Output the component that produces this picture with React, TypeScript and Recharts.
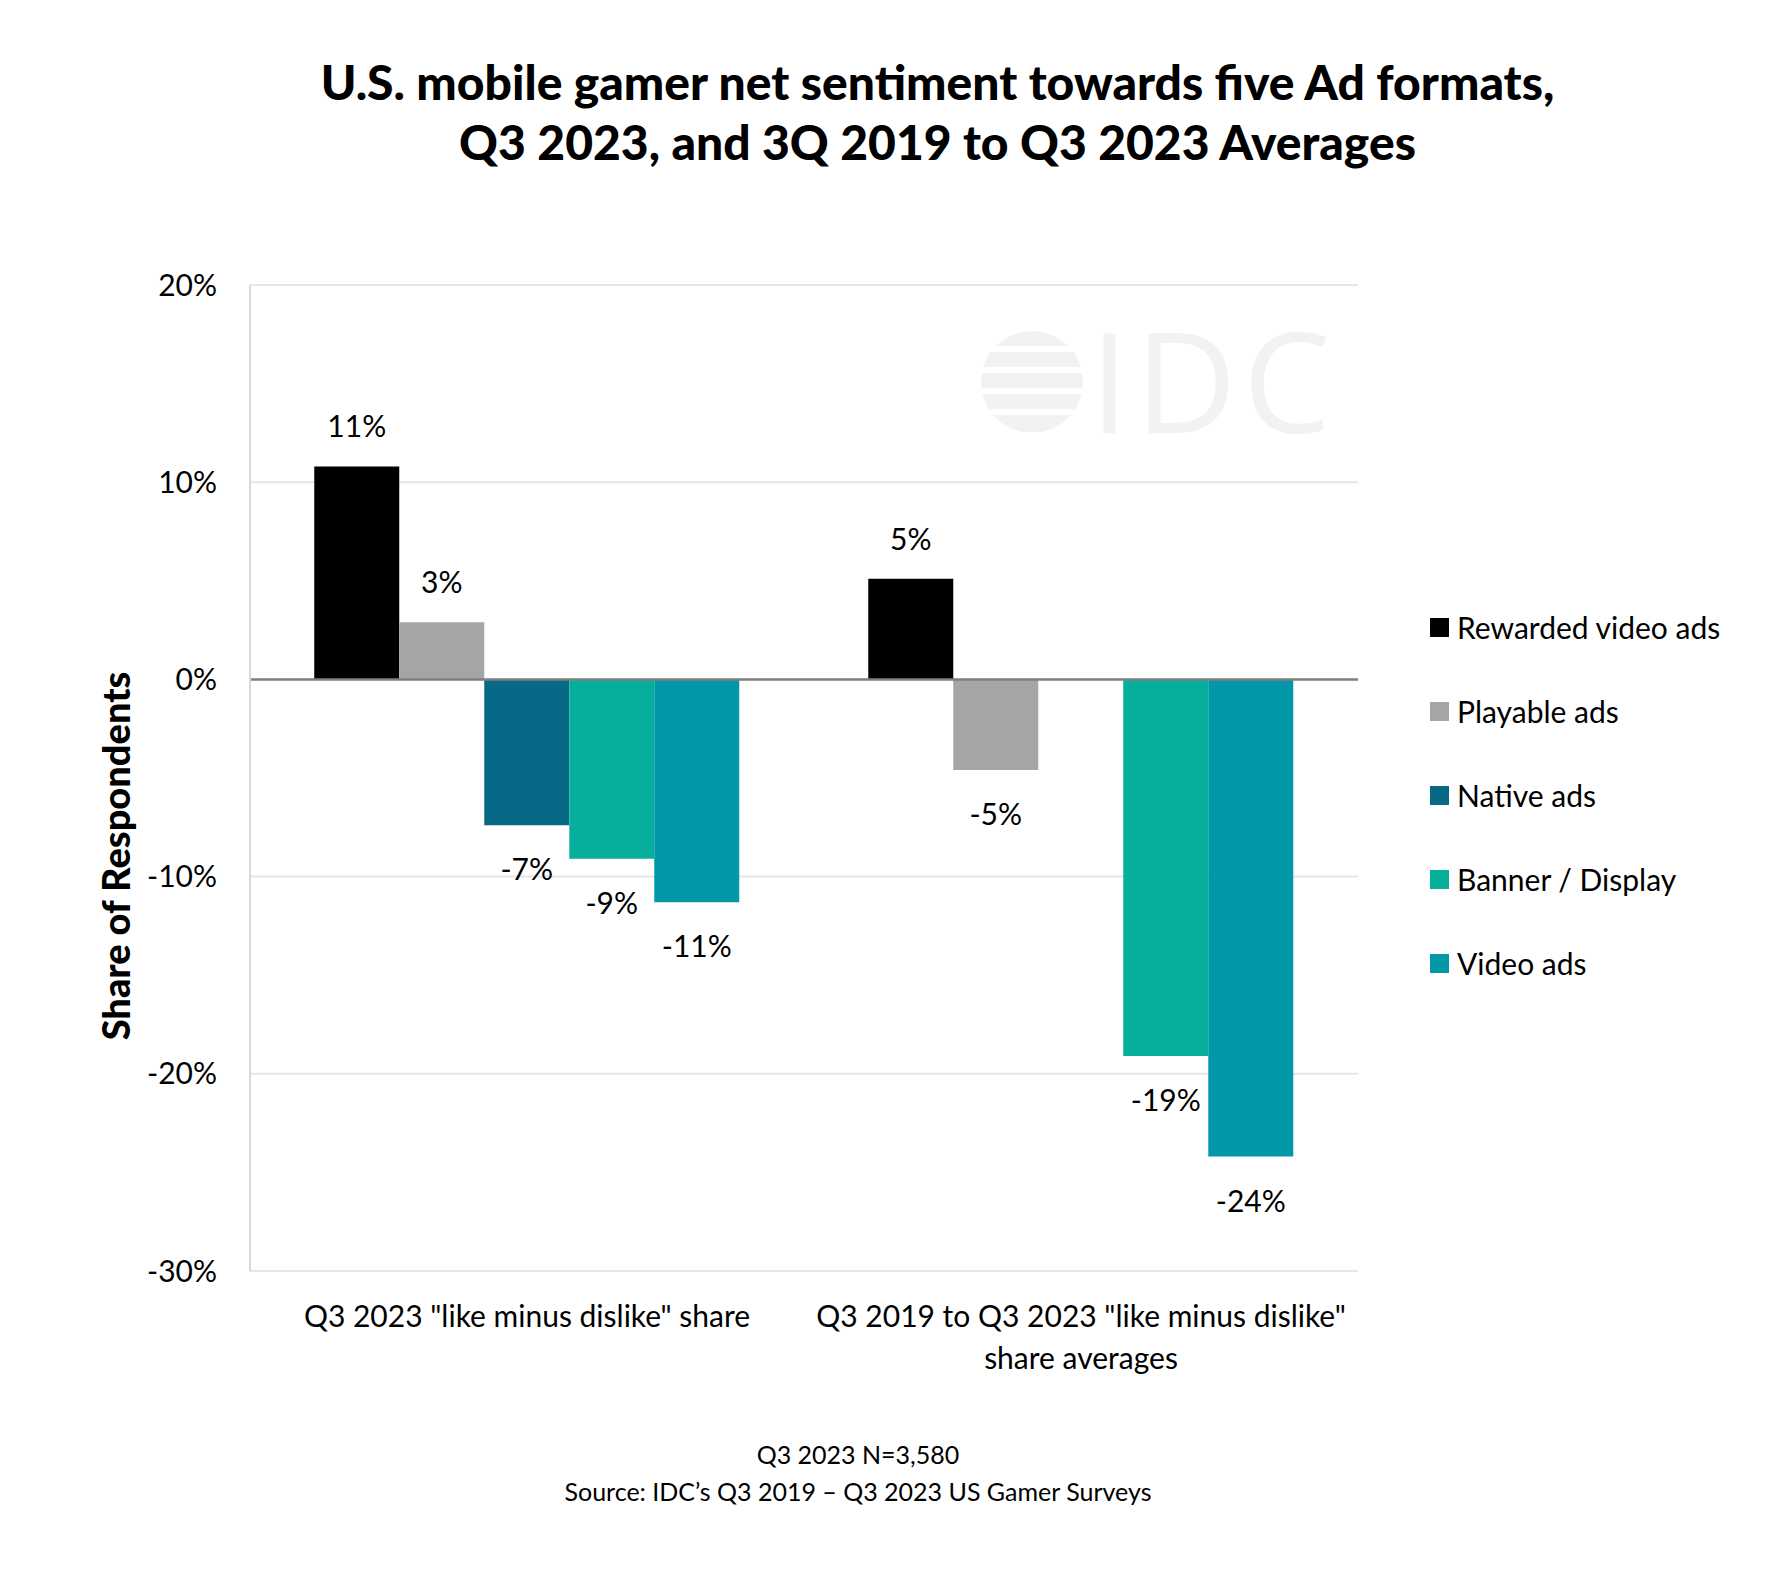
import React from 'react';
import { BarChart, Bar, XAxis, YAxis, CartesianGrid, ReferenceLine, LabelList } from 'recharts';

const categories = ['Q3 2023 "like minus dislike" share', 'Q3 2019 to Q3 2023 "like minus dislike" share averages'];
const categoryLines = [['Q3 2023 "like minus dislike" share'], ['Q3 2019 to Q3 2023 "like minus dislike"', 'share averages']];
const seriesNames = ['Rewarded video ads', 'Playable ads', 'Native ads', 'Banner / Display', 'Video ads'];
const seriesKeys = ['rewarded', 'playable', 'native', 'banner', 'video'];
const seriesColors = ['#000000', '#a5a5a5', '#066a86', '#07ae9b', '#0297a9'];
const rewarded = [10.8, 5.1];
const playable = [2.9, -4.6];
const native = [-7.4, null];
const banner = [-9.1, -19.1];
const video = [-11.3, -24.2];
const yTicks = [-30, -20, -10, 0, 10, 20];

const data = categories.map((name, i) => ({
  name,
  rewarded: rewarded[i],
  playable: playable[i],
  native: native[i],
  banner: banner[i],
  video: video[i],
}));

const FONT = 'Lato, "Noto Sans", sans-serif';
const FS = 30;

const ValueLabel = (props: any) => {
  const { x, y, width, height, value } = props;
  if (value === null || value === undefined) return null;
  const top = Math.min(y, y + height);
  const bottom = Math.max(y, y + height);
  const ly = value >= 0 ? top - 41 : bottom + 43;
  return (
    <text x={x + width / 2} y={ly} textAnchor="middle" dominantBaseline="central" fontSize={FS} fill="#000" fontFamily={FONT}>
      {`${Math.round(value)}%`}
    </text>
  );
};

const CategoryTick = (props: any) => {
  const { x, y, index } = props;
  const lines = categoryLines[index] || [];
  return (
    <g>
      {lines.map((l, i) => (
        <text key={i} x={x} y={y + 36 + i * 42} textAnchor="middle" dominantBaseline="central" fontSize={FS} fill="#000" fontFamily={FONT}>
          {l}
        </text>
      ))}
    </g>
  );
};

export default function App() {
  return (
    <div style={{ position: 'absolute', left: 0, top: 0, width: 1773, height: 1576, background: '#fff', fontFamily: FONT }}>
      <div style={{ position: 'absolute', left: 0, top: 52, width: 1875, textAlign: 'center', fontWeight: 900, fontSize: 48, lineHeight: '60px', color: '#000' }}>
        U.S. mobile gamer net sentiment towards five Ad formats,<br />Q3 2023, and 3Q 2019 to Q3 2023 Averages
      </div>

      <div style={{ position: 'absolute', left: 0, top: 0 }}>
        <BarChart
          width={1773}
          height={1576}
          data={data}
          margin={{ top: 285, right: 415, bottom: 205, left: 170 }}
          barCategoryGap="11.6%"
          barGap={0}
        >
          <CartesianGrid vertical={false} stroke="#e6e6e6" strokeWidth={2} />
          <XAxis
            dataKey="name"
            axisLine={false}
            tickLine={false}
            height={100}
            tick={<CategoryTick />}
            interval={0}
          />
          <YAxis
            domain={[-30, 20]}
            ticks={yTicks}
            width={80}
            axisLine={{ stroke: '#d9d9d9', strokeWidth: 2 }}
            tickLine={false}
            tickSize={0}
            tickMargin={33}
            tickFormatter={(v: number) => `${v}%`}
            tick={{ fontSize: FS, fill: '#000', fontFamily: FONT }}
          />
          <ReferenceLine y={0} stroke="#808080" strokeWidth={2.5} />
          {seriesKeys.map((k, i) => (
            <Bar key={k} dataKey={k} name={seriesNames[i]} fill={seriesColors[i]} isAnimationActive={false}>
              <LabelList dataKey={k} content={<ValueLabel />} />
            </Bar>
          ))}
        </BarChart>
      </div>

      {/* IDC watermark */}
      <svg style={{ position: 'absolute', left: 980, top: 260, pointerEvents: 'none' }} width={420} height={220}>
        <defs>
          <clipPath id="idcCircle">
            <circle cx={52} cy={122} r={51} />
          </clipPath>
        </defs>
        <g fill="#f2f2f2" clipPath="url(#idcCircle)">
          <rect x={0} y={71} width={104} height={15} rx={3} />
          <rect x={0} y={92} width={104} height={15} rx={3} />
          <rect x={0} y={113} width={104} height={15} rx={3} />
          <rect x={0} y={134} width={104} height={15} rx={3} />
          <rect x={0} y={155} width={104} height={17} rx={3} />
        </g>
        <text x={110} y={173} fontSize={140} letterSpacing={6} fontFamily='"Open Sans", sans-serif' fill="#f2f2f2" fontWeight={400}>IDC</text>
      </svg>

      <div style={{ position: 'absolute', left: 85, top: 856, width: 0, height: 0 }}>
        <div style={{ position: 'absolute', transform: 'translate(-50%, -50%) rotate(-90deg)', whiteSpace: 'nowrap', fontWeight: 900, fontSize: 38, color: '#000', left: 30 }}>
          Share of Respondents
        </div>
      </div>

      <div style={{ position: 'absolute', left: 1430, top: 607 }}>
        {seriesNames.map((n, i) => (
          <div key={n} style={{ display: 'flex', alignItems: 'center', height: 40, marginBottom: 44 }}>
            <div style={{ width: 19, height: 19, background: seriesColors[i], marginRight: 8 }} />
            <span style={{ fontSize: FS, color: '#000' }}>{n}</span>
          </div>
        ))}
      </div>

      <div style={{ position: 'absolute', left: 0, top: 1436, width: 1716, textAlign: 'center', fontSize: 25, lineHeight: '37px', color: '#000' }}>
        Q3 2023 N=3,580<br />Source: IDC’s Q3 2019 – Q3 2023 US Gamer Surveys
      </div>
    </div>
  );
}
